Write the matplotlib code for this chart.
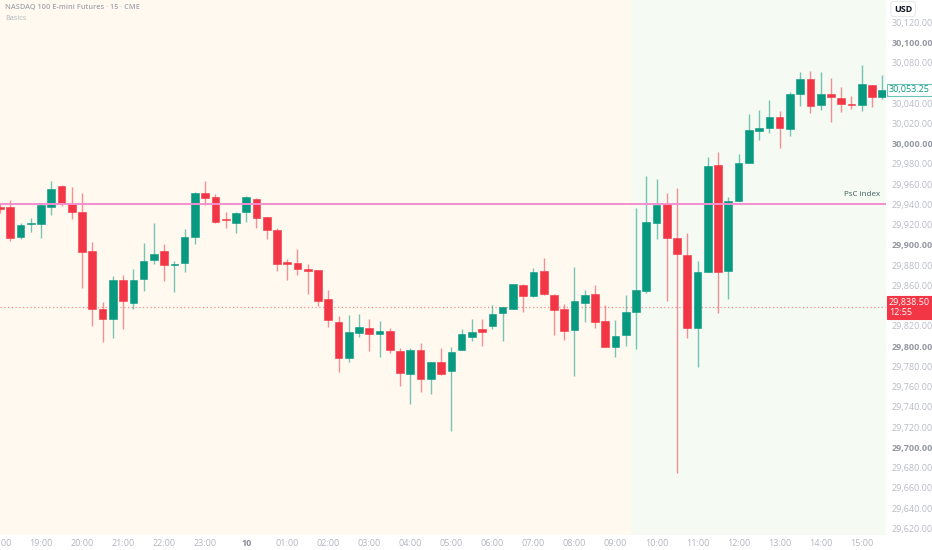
import matplotlib
matplotlib.use("Agg")
import matplotlib.pyplot as plt
from matplotlib.patches import Rectangle

plt.rcParams['font.family'] = ['Open Sans', 'DejaVu Sans']

# ---- data (15-minute bars, index 0 = 19:00) ----
bar_index = list(range(-4, 83))
opens = [29937.5, 29937.2, 29907.9, 29921.0, 29921.0, 29937.2, 29958.3, 29940.5, 29932.9, 29894.3,
         29837.0, 29826.6, 29865.7, 29843.0, 29866.4, 29884.9, 29894.0, 29880.5, 29882.2, 29907.9,
         29951.1, 29947.1, 29926.0, 29922.0, 29932.6, 29945.4, 29927.3, 29914.8, 29883.2, 29882.2,
         29876.6, 29875.0, 29846.3, 29823.9, 29788.0, 29813.0, 29818.3, 29812.0, 29815.0, 29795.5,
         29772.8, 29795.9, 29767.3, 29784.1, 29775.8, 29796.2, 29808.8, 29817.0, 29819.6, 29833.1,
         29837.0, 29860.8, 29849.3, 29874.3, 29850.9, 29836.4, 29816.0, 29843.0, 29851.3, 29824.9,
         29799.7, 29810.8, 29834.1, 29854.5, 29922.0, 29940.5, 29906.9, 29889.8, 29817.7, 29873.0,
         29979.3, 29874.3, 29943.4, 29980.7, 30012.9, 30015.3, 30026.1, 30014.6, 30049.5, 30064.3,
         30038.6, 30049.2, 30044.9, 30039.5, 30038.6, 30058.3, 30045.7]
highs = [29940.0, 29944.4, 29921.4, 29926.9, 29941.5, 29963.5, 29959.0, 29957.3, 29951.1, 29902.6,
         29844.0, 29869.3, 29870.3, 29876.3, 29901.7, 29922.0, 29900.7, 29884.2, 29915.8, 29952.0,
         29963.2, 29950.1, 29932.3, 29932.3, 29948.1, 29946.7, 29927.9, 29916.5, 29885.8, 29896.0,
         29880.9, 29875.5, 29855.8, 29829.5, 29830.5, 29831.8, 29826.9, 29824.9, 29817.7, 29797.9,
         29798.5, 29802.9, 29784.5, 29798.2, 29799.5, 29816.7, 29826.9, 29826.6, 29840.7, 29839.0,
         29861.6, 29861.4, 29877.2, 29887.1, 29851.2, 29842.0, 29877.9, 29855.2, 29860.2, 29840.7,
         29825.7, 29850.6, 29936.2, 29968.1, 29965.5, 29951.1, 29956.6, 29912.1, 29883.9, 29986.9,
         29991.6, 29947.7, 29989.6, 30029.1, 30033.6, 30043.2, 30032.7, 30050.8, 30070.9, 30071.9,
         30070.9, 30065.0, 30056.1, 30046.9, 30077.5, 30058.5, 30067.6]
lows = [29932.0, 29903.9, 29905.6, 29913.1, 29906.6, 29929.3, 29938.2, 29926.0, 29857.5, 29820.2,
        29803.8, 29807.8, 29817.0, 29836.4, 29854.5, 29880.9, 29864.7, 29853.5, 29873.3, 29901.3,
        29939.5, 29921.7, 29916.5, 29912.1, 29922.7, 29917.1, 29905.9, 29874.6, 29865.4, 29870.3,
        29851.6, 29839.4, 29819.3, 29774.2, 29784.7, 29808.8, 29795.5, 29789.6, 29793.0, 29761.0,
        29743.2, 29754.4, 29753.1, 29771.2, 29716.5, 29796.0, 29805.4, 29799.9, 29817.0, 29804.8,
        29836.8, 29834.1, 29849.0, 29851.0, 29810.8, 29806.1, 29770.5, 29824.2, 29818.3, 29799.0,
        29789.8, 29800.5, 29797.5, 29852.3, 29906.2, 29844.3, 29674.4, 29808.1, 29779.1, 29873.0,
        29833.1, 29846.9, 29943.4, 29980.7, 30003.4, 30010.9, 29996.1, 30008.0, 30037.6, 30030.7,
        30033.6, 30021.5, 30031.1, 30034.0, 30032.7, 30036.6, 30043.9]
closes = [29936.0, 29907.2, 29919.4, 29922.0, 29939.2, 29955.3, 29941.2, 29932.3, 29893.4, 29836.4,
          29827.2, 29865.7, 29844.6, 29865.4, 29884.5, 29890.8, 29880.2, 29881.5, 29907.6, 29951.1,
          29946.7, 29922.7, 29925.0, 29931.6, 29947.1, 29926.9, 29914.8, 29881.2, 29881.5, 29876.0,
          29874.0, 29844.6, 29825.6, 29788.6, 29814.0, 29818.7, 29812.3, 29815.0, 29796.2, 29773.2,
          29795.9, 29767.9, 29784.1, 29772.5, 29794.6, 29812.3, 29814.3, 29814.0, 29832.1, 29838.7,
          29861.4, 29849.9, 29873.3, 29851.3, 29835.5, 29815.0, 29844.6, 29850.9, 29823.9, 29799.2,
          29810.4, 29834.1, 29855.5, 29922.4, 29939.8, 29906.6, 29890.8, 29817.7, 29873.3, 29978.3,
          29873.0, 29943.7, 29980.7, 30013.3, 30015.9, 30026.1, 30015.3, 30049.5, 30064.3, 30037.6,
          30049.5, 30045.9, 30039.6, 30038.75, 30058.7, 30045.9, 30053.25]

time_tick_index = [-4, 0, 4, 8, 12, 16, 20, 24, 28, 32, 36, 40, 44, 48, 52, 56, 60, 64, 68, 72, 76, 80]
time_tick_labels = ["18:00", "19:00", "20:00", "21:00", "22:00", "23:00", "10", "01:00", "02:00",
                    "03:00", "04:00", "05:00", "06:00", "07:00", "08:00", "09:00", "10:00", "11:00",
                    "12:00", "13:00", "14:00", "15:00"]
price_ticks = [29620, 29640, 29660, 29680, 29700, 29720, 29740, 29760, 29780, 29800, 29820,
               29860, 29880, 29900, 29920, 29940, 29960, 29980, 30000, 30020, 30040, 30080,
               30100, 30120]
session_start_index = 57.5
psc_level = 29940.5
ref_price = 29838.50
ref_countdown = "12:55"
last_price = 30053.25

# ---- style ----
UP = "#089981"
DOWN = "#F23645"
BG_PRE = "#FFF9F0"
BG_RTH = "#F5FAF3"

W, H = 932, 550
fig = plt.figure(figsize=(W / 100, H / 100), dpi=100, facecolor="white")
ax = fig.add_axes([0, 15 / H, 886 / W, 535 / H])
ax.set_facecolor(BG_PRE)
x_min, x_max = -3.9, 82.37
ax.set_xlim(x_min, x_max)
ax.set_ylim(29613.5, 30142.0)
ax.axvspan(session_start_index, x_max, color=BG_RTH, lw=0, zorder=0)

body_w = 0.75
for i, o, h, l, c in zip(bar_index, opens, highs, lows, closes):
    col = UP if c >= o else DOWN
    ax.vlines(i, l, h, color=col, lw=1.0, alpha=0.55, zorder=2)
    bot = min(o, c)
    hgt = max(abs(c - o), 0.9)
    ax.add_patch(Rectangle((i - body_w / 2, bot), body_w, hgt, facecolor=col,
                           edgecolor=col, lw=0.4, zorder=3))

ax.axhline(psc_level, color="#F48FCF", lw=1.4, zorder=4)
ax.text(x_max - 0.6, psc_level + 6.0, "PsC index", ha="right", va="bottom",
        fontsize=5.8, color="#3e5e5c", zorder=5)
ax.axhline(ref_price, color=DOWN, lw=0.9, ls=(0, (1, 2)), alpha=0.55, zorder=1)

for s in ax.spines.values():
    s.set_visible(False)

ax.set_xticks(time_tick_index)
ax.set_xticklabels(time_tick_labels)
ax.tick_params(axis="x", length=0, pad=3, labelsize=6.5, labelcolor="#b2b5be")
for lab in ax.get_xticklabels():
    if lab.get_text() == "10":
        lab.set_color("#8a8d96")
        lab.set_fontweight("bold")

ax.yaxis.tick_right()
ax.set_yticks(price_ticks)
ax.set_yticklabels([f"{p:,.2f}" for p in price_ticks])
ax.tick_params(axis="y", length=0, pad=4, labelsize=6.5, labelcolor="#b9bcc4")
for lab, p in zip(ax.get_yticklabels(), price_ticks):
    if p % 100 == 0:
        lab.set_color("#9598a1")
        lab.set_fontweight("bold")

# price labels on the scale
trans = ax.get_yaxis_transform()
ax.text(1.0 + 3 / 886, last_price, f"{last_price:,.2f}", transform=trans, ha="left", va="center",
        fontsize=6.5, color=UP, zorder=10, clip_on=False,
        bbox=dict(boxstyle="square,pad=0.2", facecolor="white", edgecolor="#6cc4b3", lw=0.8))
ax.text(1.0 + 3 / 886, ref_price, f"{ref_price:,.2f}\n{ref_countdown}", transform=trans,
        ha="left", va="center", fontsize=6.5, color="white", zorder=10, clip_on=False,
        linespacing=1.1,
        bbox=dict(boxstyle="square,pad=0.25", facecolor=DOWN, edgecolor=DOWN, lw=0.8))

fig.text(894 / W, 1 - 9 / H, "USD", ha="left", va="center", fontsize=6.5, color="#131722",
         fontweight="bold",
         bbox=dict(boxstyle="round,pad=0.35", facecolor="white", edgecolor="#e0e3eb", lw=0.6))

fig.text(5 / W, 1 - 8 / H, "NASDAQ 100 E-mini Futures · 15 · CME", ha="left", va="center",
         fontsize=5.3, color="#a3a6af", fontweight="semibold")
fig.text(5 / W, 1 - 18 / H, "Basics", ha="left", va="center", fontsize=5.2, color="#b2b5be")

fig.savefig("out.png", dpi=100, facecolor="white")
